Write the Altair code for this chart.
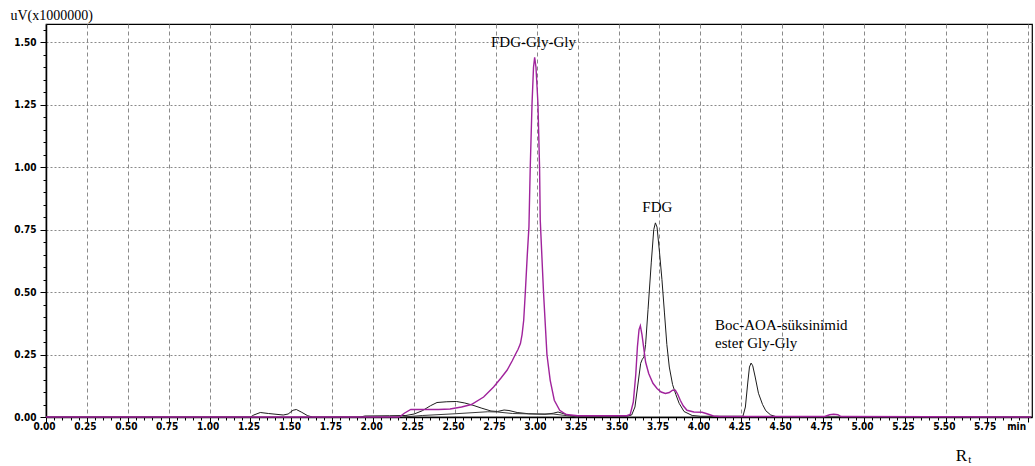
import altair as alt
import pandas as pd

# ---- data ----
black_t = [0.00, 1.25, 1.27, 1.31, 1.36, 1.45, 1.48, 1.51, 1.53, 1.56, 1.60, 1.63,
           1.92, 1.95, 2.10, 2.20, 2.25, 2.30, 2.35, 2.39, 2.45, 2.51, 2.56, 2.61,
           2.66, 2.72, 2.76, 2.80, 2.83, 2.88, 2.95, 3.05, 3.10, 3.13, 3.16, 3.20,
           3.25, 3.55, 3.58, 3.60, 3.62, 3.635, 3.645, 3.655, 3.665, 3.68, 3.70,
           3.715, 3.725, 3.735, 3.75, 3.765, 3.78, 3.795, 3.81, 3.83, 3.85, 3.87,
           3.90, 3.95, 4.00, 4.26, 4.275, 4.29, 4.30, 4.31, 4.32, 4.335, 4.355,
           4.38, 4.40, 4.43, 4.46, 4.50, 6.02]
black_v = [0.0, 0.0, 0.008, 0.018, 0.014, 0.008, 0.012, 0.027, 0.03, 0.02, 0.005, 0.0,
           0.0, 0.004, 0.005, 0.006, 0.012, 0.025, 0.045, 0.058, 0.061, 0.062, 0.056, 0.047,
           0.036, 0.024, 0.022, 0.028, 0.026, 0.018, 0.013, 0.011, 0.015, 0.02, 0.014, 0.006,
           0.003, 0.003, 0.008, 0.04, 0.14, 0.215, 0.231, 0.24, 0.29, 0.43, 0.62,
           0.75, 0.777, 0.76, 0.66, 0.55, 0.42, 0.29, 0.2, 0.13, 0.09, 0.055,
           0.022, 0.006, 0.003, 0.003, 0.04, 0.14, 0.2, 0.216, 0.205, 0.16, 0.095,
           0.05, 0.025, 0.008, 0.002, 0.0, 0.0]

magenta_t = [0.00, 2.16, 2.19, 2.23, 2.30, 2.40, 2.47, 2.54, 2.60, 2.675, 2.736, 2.78,
             2.818, 2.85, 2.869, 2.885, 2.90, 2.91, 2.92, 2.93, 2.942, 2.952, 2.96, 2.971,
             2.98, 2.987, 2.995, 3.007, 3.017, 3.021, 3.041, 3.062, 3.082, 3.107, 3.14,
             3.18, 3.25, 3.55, 3.571, 3.59, 3.605, 3.615, 3.625, 3.633, 3.643, 3.653,
             3.665, 3.684, 3.71, 3.735, 3.76, 3.786, 3.81, 3.83, 3.847, 3.862, 3.877,
             3.895, 3.918, 3.96, 4.01, 4.04, 4.08, 4.12, 4.76, 4.79, 4.815, 4.84, 4.86, 6.02]
magenta_v = [0.0, 0.0, 0.015, 0.03, 0.03, 0.03, 0.032, 0.04, 0.05, 0.08, 0.12, 0.155,
             0.187, 0.225, 0.25, 0.27, 0.294, 0.33, 0.387, 0.5, 0.65, 0.761, 1.0, 1.256,
             1.40, 1.44, 1.40, 1.256, 1.0, 0.79, 0.5, 0.25, 0.147, 0.067, 0.027,
             0.01, 0.005, 0.005, 0.01, 0.06, 0.17, 0.28, 0.35, 0.365, 0.33, 0.28,
             0.22, 0.174, 0.135, 0.114, 0.1, 0.094, 0.098, 0.107, 0.107, 0.09, 0.067,
             0.045, 0.027, 0.02, 0.019, 0.013, 0.004, 0.002, 0.002, 0.009, 0.011, 0.009, 0.002, 0.0]

gray_t = [2.18, 2.30, 2.50, 2.70, 2.76, 2.85, 3.00, 3.10, 3.20, 3.25]
gray_v = [0.0, 0.006, 0.013, 0.021, 0.02, 0.014, 0.012, 0.012, 0.004, 0.0]

center_labels = ["FDG-Gly-Gly", "FDG"]
center_t = [2.98, 3.737]
center_v = [1.502, 0.84]
left_labels = ["Boc-AOA-süksinimid", "ester Gly-Gly"]
left_t = [4.09, 4.09]
left_v = [0.367, 0.295]

x_major = [i * 0.25 for i in range(25)]
x_minor = [round(i * 0.05, 2) for i in range(121)]
y_major = [i * 0.25 for i in range(7)]
y_minor = [round(i * 0.05, 2) for i in range(32)]

XMAX = 6.027
YMAX = 1.573

df_black = pd.DataFrame({"t": black_t, "v": black_v})
df_mag = pd.DataFrame({"t": magenta_t, "v": magenta_v})
df_gray = pd.DataFrame({"t": gray_t, "v": gray_v})
df_c = pd.DataFrame({"t": center_t, "v": center_v, "txt": center_labels})
df_l = pd.DataFrame({"t": left_t, "v": left_v, "txt": left_labels})
df_r = pd.DataFrame({"t": [5.595], "v": [-0.158], "txt": ["R"]})
df_sub = pd.DataFrame({"t": [5.647], "v": [-0.172], "txt": ["t"]})

xs = alt.Scale(domain=[0, XMAX], nice=False, zero=False)
ys = alt.Scale(domain=[0, YMAX], nice=False, zero=False)

LABEL_FONT = "Liberation Sans Narrow, DejaVu Sans Condensed, Arial Narrow, sans-serif"

major_x_axis = alt.Axis(values=x_major, orient="bottom", grid=True, gridColor="#8a8a8a",
                        gridDash=[4, 3], gridWidth=1, tickSize=5, tickColor="black",
                        domainColor="black", domainWidth=1.5, labelFont=LABEL_FONT,
                        labelFontSize=10, labelFontWeight="bold", labelColor="black",
                        labelPadding=-1, labelFlush=False, labelOffset=-2,
                        labelAlign={"condition": {"test": "datum.value > 5.9",
                                                  "value": "right"},
                                    "value": "center"},
                        labelExpr="datum.value > 5.9 ? 'min' : format(datum.value, '.2f')",
                        title=None)
major_y_axis = alt.Axis(values=y_major, orient="left", grid=True, gridColor="#8a8a8a",
                        gridDash=[2, 2], gridWidth=1, tickSize=6, tickColor="black",
                        domainColor="black", domainWidth=1.5, labelFont=LABEL_FONT,
                        labelFontSize=10, labelFontWeight="bold", labelColor="black",
                        labelPadding=4, format=".2f", labelFlush=False,
                        title="uV(x1000000)", titleAngle=0, titleAlign="left",
                        titleBaseline="middle", titleX=-36, titleY=-9,
                        titleFont="Liberation Serif", titleFontSize=14,
                        titleFontWeight="normal", titleColor="black")
minor_x_axis = alt.Axis(values=x_minor, orient="bottom", grid=False, labels=False,
                        tickSize=3, tickColor="black", domain=False, title=None)
minor_y_axis = alt.Axis(values=y_minor, orient="left", grid=False, labels=False,
                        tickSize=3, tickColor="black", domain=False, title=None)


def enc(chart, xaxis=None, yaxis=None):
    return chart.encode(
        x=alt.X("t:Q", scale=xs, axis=xaxis),
        y=alt.Y("v:Q", scale=ys, axis=yaxis),
    )


black = enc(alt.Chart(df_black).mark_line(color="#1c1c1c", strokeWidth=1),
            major_x_axis, major_y_axis)
gray = enc(alt.Chart(df_gray).mark_line(color="#3a3a3a", strokeWidth=1),
           minor_x_axis, minor_y_axis)
magenta = enc(alt.Chart(df_mag).mark_line(color="#a0239c", strokeWidth=1.4))
lab_c = enc(alt.Chart(df_c).mark_text(font="Liberation Serif", fontSize=15, color="black",
                                      baseline="middle", align="center")).encode(text="txt:N")
lab_l = enc(alt.Chart(df_l).mark_text(font="Liberation Serif", fontSize=15, color="black",
                                      baseline="middle", align="left")).encode(text="txt:N")
lab_r = enc(alt.Chart(df_r).mark_text(font="Liberation Serif", fontSize=17, color="black",
                                      baseline="middle", align="center")).encode(text="txt:N")
lab_s = enc(alt.Chart(df_sub).mark_text(font="Liberation Serif", fontSize=11, color="black",
                                        baseline="middle", align="center")).encode(text="txt:N")

chart = alt.layer(black, gray, magenta, lab_c, lab_l, lab_r, lab_s).resolve_axis(
    x="independent", y="independent"
).properties(
    width=986, height=393,
    autosize=alt.AutoSizeParams(type="none"),
    padding={"left": 46, "top": 24, "right": 3, "bottom": 49},
    background="white",
).configure_view(stroke="black", strokeWidth=1.2)

chart.save("out.html", embed_options={"renderer": "svg", "actions": False})
